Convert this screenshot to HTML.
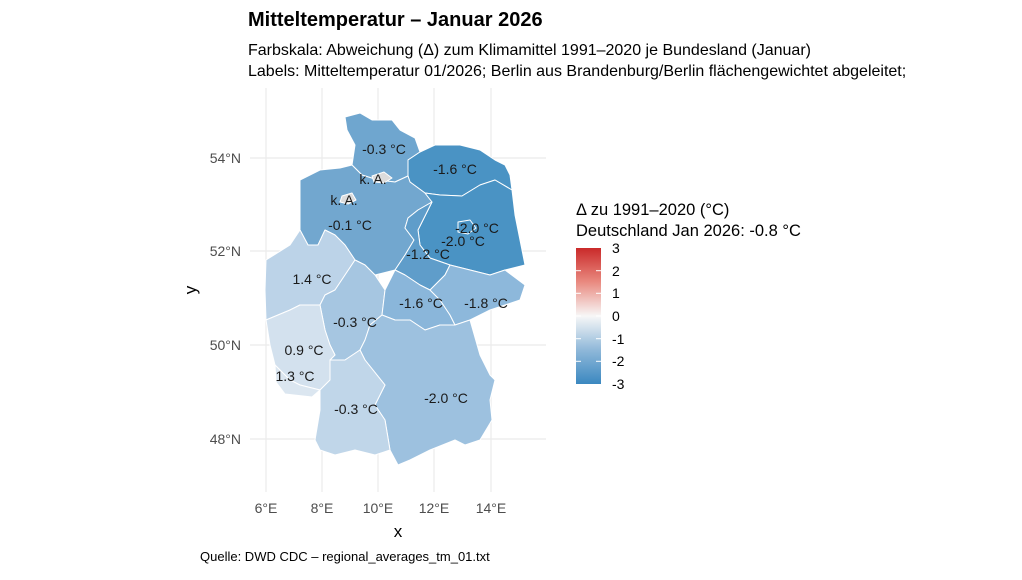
<!DOCTYPE html>
<html><head><meta charset="utf-8"><style>
body{margin:0;background:#fff;width:1022px;height:575px;overflow:hidden}
svg{font-family:"Liberation Sans",sans-serif}
</style></head><body>
<svg width="1022" height="575" viewBox="0 0 1022 575">
<rect width="1022" height="575" fill="#fff"/>
<g stroke="#ebebeb" stroke-width="1.2">
<line x1="266" y1="88" x2="266" y2="492"/><line x1="322" y1="88" x2="322" y2="492"/><line x1="378" y1="88" x2="378" y2="492"/><line x1="434" y1="88" x2="434" y2="492"/><line x1="491" y1="88" x2="491" y2="492"/>
<line x1="250" y1="158" x2="546" y2="158"/><line x1="250" y1="251" x2="546" y2="251"/><line x1="250" y1="345" x2="546" y2="345"/><line x1="250" y1="439" x2="546" y2="439"/>
</g>
<g stroke="#fff" stroke-width="1" stroke-linejoin="round">
<polygon fill="#6fa6cf" points="345,117 360,113 372,120 392,120 400,130 415,138 420,152 408,160 408,176 395,182 378,180 362,175 352,165 355,145 347,130"/>
<polygon fill="#4a93c4" points="408,160 420,152 435,145 460,145 480,150 495,160 505,165 510,175 512,190 495,180 480,185 462,196 440,195 425,193 410,182 408,176"/>
<polygon fill="#72a7cf" points="300,180 320,170 340,168 352,165 362,175 378,180 395,182 408,176 410,182 425,193 432,202 418,210 408,218 405,228 414,240 405,255 395,270 375,275 365,265 355,260 345,245 335,235 325,230 318,245 308,245 300,230"/>
<polygon fill="#4a93c4" points="425,193 440,195 462,196 480,185 495,180 512,190 515,215 520,240 525,265 505,270 490,275 470,270 450,265 430,258 420,245 418,230 432,202"/>
<polygon fill="#5f9dca" points="432,202 418,230 420,245 430,258 450,265 445,275 430,290 420,285 405,275 395,270 405,255 414,240 405,228 408,218 418,210"/>
<polygon fill="#bcd3e8" points="266,260 290,245 300,230 308,245 318,245 325,230 335,235 345,245 355,260 345,275 335,290 325,295 320,305 300,305 290,310 266,320 265,290"/>
<polygon fill="#a6c6e1" points="320,305 325,295 335,290 345,275 355,260 365,265 375,275 385,290 382,315 370,325 365,340 360,350 345,360 330,360 335,355 330,345 325,330"/>
<polygon fill="#8ab6da" points="385,290 395,270 405,275 420,285 430,290 440,300 450,315 455,325 440,325 425,330 410,320 395,320 382,315"/>
<polygon fill="#8db8db" points="450,265 470,270 490,275 505,270 525,285 520,300 505,305 490,310 470,320 455,325 450,315 440,300 430,290 445,275"/>
<polygon fill="#9dc1df" points="382,315 395,320 410,320 425,330 440,325 455,325 470,320 480,355 490,375 495,380 490,400 492,420 480,440 465,445 455,440 430,450 410,460 398,465 390,450 385,420 375,405 385,385 365,360 360,350 365,340 370,325"/>
<polygon fill="#d3e1ee" points="266,320 290,310 300,305 320,305 325,330 330,345 335,355 330,360 330,380 320,390 300,385 290,380 275,365 270,345"/>
<polygon fill="#dbe6f0" points="275,365 290,380 300,385 320,390 312,397 285,394 276,382"/>
<polygon fill="#c0d6e9" points="330,360 345,360 360,350 365,360 385,385 375,405 385,420 390,450 375,455 355,450 335,455 320,450 315,440 320,410 320,390 330,380"/>
<polygon fill="#4a93c4" points="458,222 470,220 476,228 468,234 458,232"/>
<polygon fill="#dcdcdc" points="372,176 384,172 392,178 384,183 374,182"/>
<polygon fill="#dcdcdc" points="342,196 352,193 356,200 348,204 340,202"/>
</g>
<g font-size="14" fill="#1a1a1a" text-anchor="middle">
<text x="384" y="154">-0.3 °C</text>
<text x="455" y="174">-1.6 °C</text>
<text x="373" y="184">k. A.</text>
<text x="344" y="205">k. A.</text>
<text x="350" y="230">-0.1 °C</text>
<text x="477" y="233">-2.0 °C</text>
<text x="463" y="246">-2.0 °C</text>
<text x="428" y="259">-1.2 °C</text>
<text x="312" y="284">1.4 °C</text>
<text x="421" y="308">-1.6 °C</text>
<text x="486" y="308">-1.8 °C</text>
<text x="355" y="327">-0.3 °C</text>
<text x="304" y="355">0.9 °C</text>
<text x="295" y="381">1.3 °C</text>
<text x="446" y="403">-2.0 °C</text>
<text x="356" y="414">-0.3 °C</text>
</g>
<g font-size="14" fill="#4d4d4d">
<text x="241" y="163" text-anchor="end">54°N</text>
<text x="241" y="256" text-anchor="end">52°N</text>
<text x="241" y="350" text-anchor="end">50°N</text>
<text x="241" y="444" text-anchor="end">48°N</text>
<text x="266" y="513" text-anchor="middle">6°E</text>
<text x="322" y="513" text-anchor="middle">8°E</text>
<text x="378" y="513" text-anchor="middle">10°E</text>
<text x="434" y="513" text-anchor="middle">12°E</text>
<text x="491" y="513" text-anchor="middle">14°E</text>
</g>
<text x="398" y="537" font-size="17" text-anchor="middle" fill="#000">x</text>
<text x="0" y="0" font-size="17" text-anchor="middle" fill="#000" transform="translate(196,290) rotate(-90)">y</text>
<text x="248" y="26" font-size="20" font-weight="bold" fill="#000">Mitteltemperatur – Januar 2026</text>
<text x="248" y="55" font-size="16" fill="#000">Farbskala: Abweichung (Δ) zum Klimamittel 1991–2020 je Bundesland (Januar)</text>
<text x="248" y="76" font-size="16" fill="#000">Labels: Mitteltemperatur 01/2026; Berlin aus Brandenburg/Berlin flächengewichtet abgeleitet;</text>
<text x="576" y="215" font-size="16.5" fill="#000">Δ zu 1991–2020 (°C)</text>
<text x="576" y="236" font-size="16.5" fill="#000">Deutschland Jan 2026: -0.8 °C</text>
<defs><linearGradient id="g" x1="0" y1="0" x2="0" y2="1">
<stop offset="0" stop-color="#ca2a2a"/><stop offset="0.25" stop-color="#e98a80"/><stop offset="0.5" stop-color="#f7f7f7"/><stop offset="0.75" stop-color="#8fb8d9"/><stop offset="1" stop-color="#3b88c0"/></linearGradient></defs>
<rect x="576" y="248" width="25" height="136" fill="url(#g)"/>
<g stroke="#fff" stroke-width="1">
<line x1="576" y1="270.7" x2="581" y2="270.7"/><line x1="596" y1="270.7" x2="601" y2="270.7"/>
<line x1="576" y1="293.3" x2="581" y2="293.3"/><line x1="596" y1="293.3" x2="601" y2="293.3"/>
<line x1="576" y1="316" x2="581" y2="316"/><line x1="596" y1="316" x2="601" y2="316"/>
<line x1="576" y1="338.7" x2="581" y2="338.7"/><line x1="596" y1="338.7" x2="601" y2="338.7"/>
<line x1="576" y1="361.3" x2="581" y2="361.3"/><line x1="596" y1="361.3" x2="601" y2="361.3"/>
</g>
<g font-size="14" fill="#000">
<text x="612" y="253">3</text><text x="612" y="276">2</text><text x="612" y="298">1</text><text x="612" y="321">0</text>
<text x="612" y="344">-1</text><text x="612" y="366">-2</text><text x="612" y="389">-3</text>
</g>
<text x="200" y="561" font-size="13" fill="#000">Quelle: DWD CDC – regional_averages_tm_01.txt</text>
</svg>
</body></html>
